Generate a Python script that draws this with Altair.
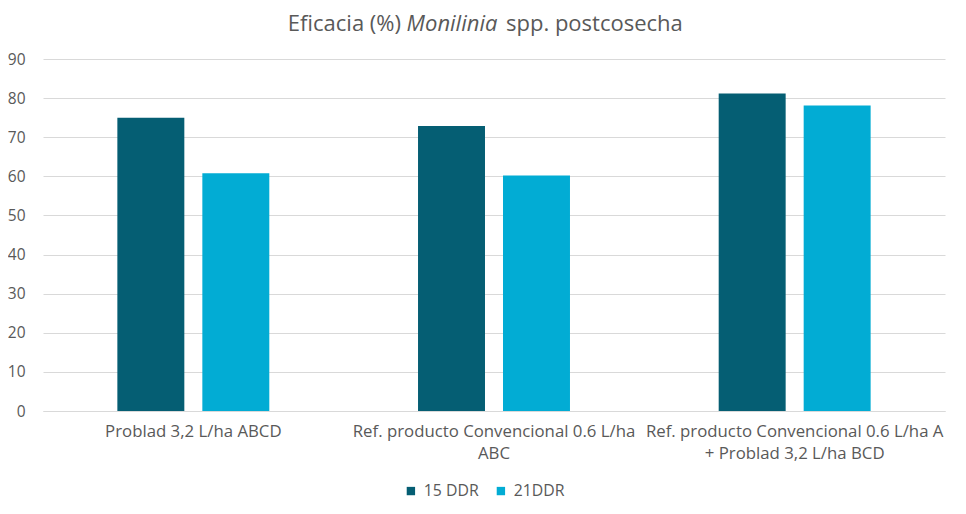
import altair as alt
import pandas as pd

categories = [
    "Problad 3,2 L/ha ABCD",
    "Ref. producto Convencional 0.6 L/ha|ABC",
    "Ref. producto Convencional 0.6 L/ha A|+ Problad 3,2 L/ha BCD",
]
series = ["15 DDR", "21DDR"]
values_15 = [75.0, 72.9, 81.2]
values_21 = [60.8, 60.2, 78.1]
y_ticks = [0, 10, 20, 30, 40, 50, 60, 70, 80, 90]
colors = ["#055E73", "#02ACD4"]
title_parts = ["Eficacia (%)", "Monilinia", "spp. postcosecha"]

rows = []
for c, a, b in zip(categories, values_15, values_21):
    rows.append({"cat": c, "serie": series[0], "val": a})
    rows.append({"cat": c, "serie": series[1], "val": b})
df = pd.DataFrame(rows)

FONT = "Open Sans"
GREY = "#595959"

# plot area spans the title band too; the y domain top leaves room for it
bars = alt.Chart(df).mark_bar().encode(
    x=alt.X("cat:N", sort=categories, title=None,
            scale=alt.Scale(paddingInner=0, paddingOuter=0),
            axis=alt.Axis(labelExpr="split(datum.label, '|')", labelAngle=0,
                          ticks=False, domain=True, domainColor="#D9D9D9",
                          labelLineHeight=22, labelPadding=12, labelLimit=400,
                          labelOverlap=False, labelFontSize=16.8, labelColor=GREY,
                          labelFont=FONT, grid=False)),
    xOffset=alt.XOffset("serie:N", sort=series,
                        scale=alt.Scale(paddingInner=0.212, paddingOuter=0.875)),
    y=alt.Y("val:Q", title=None,
            scale=alt.Scale(domain=[0, 103.04], nice=False),
            axis=alt.Axis(values=y_ticks, domain=False, ticks=False,
                          gridColor="#D9D9D9", gridWidth=1, labelPadding=18,
                          labelFontSize=15.5, labelColor=GREY, labelFont=FONT)),
    color=alt.Color("serie:N", sort=series,
                    scale=alt.Scale(domain=series, range=colors),
                    legend=alt.Legend(title=None, orient="none", direction="horizontal",
                                      legendX=360, legendY=475, symbolType="square",
                                      symbolSize=70, symbolStrokeWidth=0,
                                      labelFontSize=15.8, labelColor=GREY, labelFont=FONT,
                                      labelOffset=5, columnPadding=14)),
)

TS = 22
TY = 23
t1 = alt.Chart(pd.DataFrame({"t": [title_parts[0]]})).mark_text(
    align="right", baseline="alphabetic", fontSize=TS, font=FONT, color=GREY
).encode(text="t:N", x=alt.value(358), y=alt.value(TY))
t2 = alt.Chart(pd.DataFrame({"t": [title_parts[1]]})).mark_text(
    align="center", baseline="alphabetic", fontSize=TS, font=FONT, color=GREY,
    fontStyle="italic"
).encode(text="t:N", x=alt.value(409), y=alt.value(TY))
t3 = alt.Chart(pd.DataFrame({"t": [title_parts[2]]})).mark_text(
    align="left", baseline="alphabetic", fontSize=TS, font=FONT, color=GREY
).encode(text="t:N", x=alt.value(463), y=alt.value(TY))

chart = alt.layer(bars, t1, t2, t3).properties(
    width=902, height=403,
    autosize=alt.AutoSizeParams(type="none"),
    padding={"left": 35, "top": 0, "right": 13, "bottom": 95},
    background="white",
).configure_view(stroke=None)

chart.save("out.html", embed_options={"renderer": "svg", "actions": False})
